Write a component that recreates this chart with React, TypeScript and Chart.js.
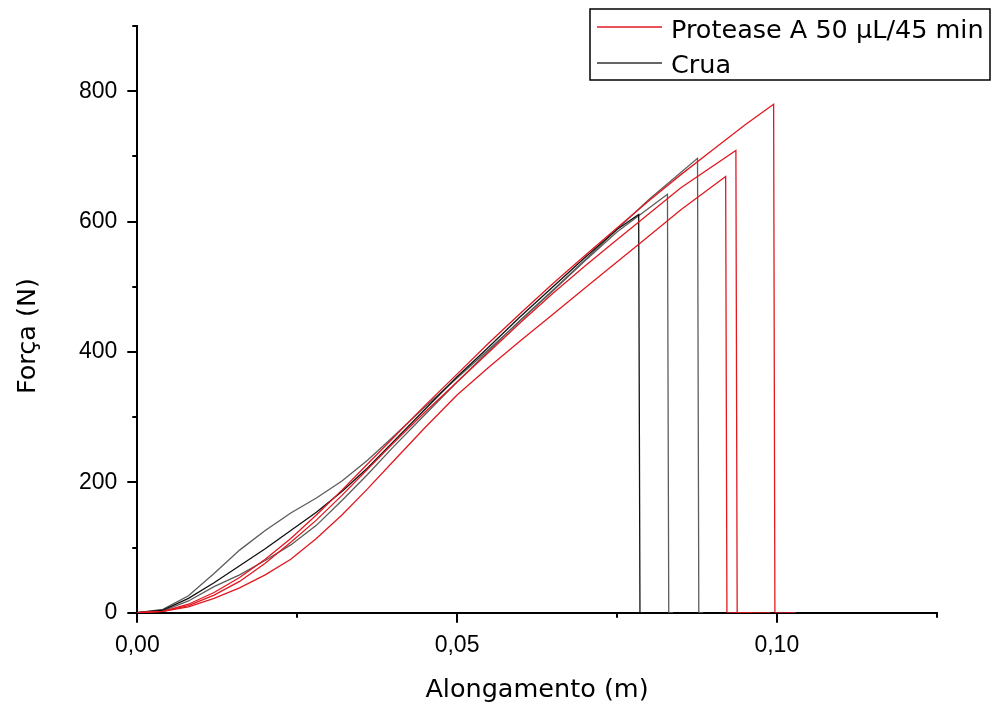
import React, { useEffect, useRef } from "react";
import { Chart, registerables } from "chart.js";

Chart.register(...registerables);

// ---- Data (Alongamento in m, Força in N) ----
const protease1X = [0, 0.004, 0.008, 0.012, 0.016, 0.02, 0.024, 0.028, 0.032, 0.036, 0.04, 0.045, 0.05, 0.055, 0.06, 0.065, 0.07, 0.075, 0.08, 0.085, 0.09, 0.095, 0.0995, 0.0997, 0.103];
const protease1Y = [0, 2, 13, 31, 54, 82, 114, 150, 188, 228, 268, 318, 366, 414, 460, 505, 548, 590, 632, 672, 710, 748, 780, 0, 0];

const protease2X = [0, 0.004, 0.008, 0.012, 0.016, 0.02, 0.024, 0.028, 0.032, 0.036, 0.04, 0.045, 0.05, 0.055, 0.06, 0.065, 0.07, 0.075, 0.08, 0.085, 0.0936, 0.0938, 0.099];
const protease2Y = [0, 2, 11, 27, 48, 76, 108, 142, 180, 220, 260, 308, 354, 400, 446, 490, 532, 572, 612, 652, 709, 0, 0];

const protease3X = [0, 0.004, 0.008, 0.012, 0.016, 0.02, 0.024, 0.028, 0.032, 0.036, 0.04, 0.045, 0.05, 0.055, 0.06, 0.065, 0.07, 0.075, 0.08, 0.085, 0.092, 0.0922, 0.096];
const protease3Y = [0, 2, 9, 22, 38, 58, 82, 114, 150, 190, 232, 284, 334, 377, 418, 458, 498, 538, 578, 618, 669, 0, 0];

const crua1X = [0, 0.004, 0.008, 0.012, 0.016, 0.02, 0.024, 0.028, 0.032, 0.036, 0.04, 0.045, 0.05, 0.055, 0.06, 0.065, 0.07, 0.075, 0.0784, 0.0786, 0.0792];
const crua1Y = [0, 4, 22, 46, 72, 98, 126, 154, 186, 222, 262, 312, 362, 408, 455, 500, 545, 588, 611, 0, 0];

const crua2X = [0, 0.004, 0.008, 0.012, 0.016, 0.02, 0.024, 0.028, 0.032, 0.036, 0.04, 0.045, 0.05, 0.055, 0.06, 0.065, 0.07, 0.075, 0.0829, 0.0831, 0.0838];
const crua2Y = [0, 5, 26, 60, 96, 126, 153, 176, 202, 234, 270, 316, 360, 404, 449, 494, 540, 584, 642, 0, 0];

const crua3X = [0, 0.004, 0.008, 0.012, 0.016, 0.02, 0.024, 0.028, 0.032, 0.036, 0.04, 0.045, 0.05, 0.055, 0.06, 0.065, 0.07, 0.075, 0.08, 0.0876, 0.0878, 0.0885];
const crua3Y = [0, 3, 18, 40, 58, 80, 104, 134, 172, 212, 254, 304, 354, 402, 450, 495, 541, 588, 634, 697, 0, 0];

const xMajorTicks = [0, 0.05, 0.1];
const xMinorTicks = [0.025, 0.075, 0.125];
const yMajorTicks = [0, 200, 400, 600, 800];
const yMinorTicks = [100, 300, 500, 700, 900];

const legendLabels = ["Protease A 50 \u03bcL/45 min", "Crua"];
const xTitle = "Alongamento (m)";
const yTitle = "Força (N)";

const RED = "rgb(226,24,32)";
const BLACK = "#111111";
const GRAY = "#5c5c5c";

const toPoints = (xs: number[], ys: number[]) => xs.map((x, i) => ({ x, y: ys[i] }));

const TICK_FONT = '"Liberation Sans", Arial, sans-serif';
const TITLE_FONT = '"DejaVu Sans", sans-serif';

const extrasPlugin = {
  id: "extras",
  afterDraw(chart: any) {
    const { ctx, scales } = chart;
    const xs = scales.x;
    const ys = scales.y;
    ctx.save();
    ctx.strokeStyle = "#000";
    ctx.lineWidth = 2;
    // minor ticks
    const yBase = ys.getPixelForValue(0);
    const xBase = xs.getPixelForValue(0);
    ctx.beginPath();
    xMinorTicks.forEach((v) => {
      const px = Math.round(xs.getPixelForValue(v));
      ctx.moveTo(px, yBase);
      ctx.lineTo(px, yBase + 5);
    });
    yMinorTicks.forEach((v) => {
      const py = Math.round(ys.getPixelForValue(v));
      ctx.moveTo(xBase, py);
      ctx.lineTo(xBase - 5, py);
    });
    ctx.stroke();

    // y axis title
    ctx.save();
    ctx.translate(28, 336);
    ctx.rotate(-Math.PI / 2);
    ctx.font = `25.5px ${TITLE_FONT}`;
    ctx.fillStyle = "#000";
    ctx.textAlign = "center";
    ctx.textBaseline = "middle";
    ctx.fillText(yTitle, 0, 0);
    ctx.restore();

    // legend
    const bx = 590, by = 9, bw = 400, bh = 71;
    ctx.fillStyle = "#fff";
    ctx.fillRect(bx, by, bw, bh);
    ctx.lineWidth = 1.5;
    ctx.strokeStyle = "#000";
    ctx.strokeRect(bx, by, bw, bh);
    const rows = [
      { label: legendLabels[0], color: RED, y: 27, base: 38 },
      { label: legendLabels[1], color: "#333333", y: 63, base: 73 },
    ];
    ctx.font = `25.5px ${TITLE_FONT}`;
    ctx.textBaseline = "alphabetic";
    ctx.textAlign = "left";
    rows.forEach((r) => {
      ctx.beginPath();
      ctx.strokeStyle = r.color;
      ctx.lineWidth = 1.5;
      ctx.moveTo(597, r.y);
      ctx.lineTo(662, r.y);
      ctx.stroke();
      ctx.fillStyle = "#000";
      ctx.fillText(r.label, 671, r.base);
    });
    ctx.restore();
  },
};

export default function App() {
  const ref = useRef<HTMLCanvasElement | null>(null);

  useEffect(() => {
    if (!ref.current) return;
    const mk = (xs: number[], ys: number[], color: string) => ({
      data: toPoints(xs, ys),
      borderColor: color,
      backgroundColor: color,
      borderWidth: 1.3,
      pointRadius: 0,
      showLine: true,
      fill: false,
      tension: 0,
    });
    const chart = new Chart(ref.current, {
      type: "scatter",
      data: {
        datasets: [
          mk(protease1X, protease1Y, RED),
          mk(protease2X, protease2Y, RED),
          mk(protease3X, protease3Y, RED),
          mk(crua1X, crua1Y, BLACK),
          mk(crua2X, crua2Y, GRAY),
          mk(crua3X, crua3Y, GRAY),
        ],
      },
      options: {
        animation: false,
        responsive: false,
        devicePixelRatio: 1,
        layout: { padding: { left: 0, top: 26, right: 61.3, bottom: 0 } },
        plugins: { legend: { display: false }, tooltip: { enabled: false } },
        scales: {
          x: {
            type: "linear",
            min: 0,
            max: 0.125,
            afterFit: (s: any) => {
              s.height = 97.3;
            },
            afterBuildTicks: (s: any) => {
              s.ticks = xMajorTicks.map((v) => ({ value: v }));
            },
            ticks: {
              color: "#000",
              padding: 9,
              font: { family: TICK_FONT, size: 23 },
              callback: (v: any) => Number(v).toFixed(2).replace(".", ","),
            },
            grid: {
              drawOnChartArea: false,
              drawTicks: true,
              tickLength: 10,
              color: "#000",
              lineWidth: 2,
            },
            border: { display: true, color: "#000", width: 2 },
            title: {
              display: true,
              text: xTitle,
              color: "#000",
              font: { family: TITLE_FONT, size: 25.5 },
              padding: { top: 0, bottom: 4 },
            },
          },
          y: {
            type: "linear",
            min: 0,
            max: 900,
            afterFit: (s: any) => {
              s.width = 137.3;
            },
            afterBuildTicks: (s: any) => {
              s.ticks = yMajorTicks.map((v) => ({ value: v }));
            },
            ticks: {
              color: "#000",
              padding: 10,
              font: { family: TICK_FONT, size: 23 },
              callback: (v: any) => String(v),
            },
            grid: {
              drawOnChartArea: false,
              drawTicks: true,
              tickLength: 10,
              color: "#000",
              lineWidth: 2,
            },
            border: { display: true, color: "#000", width: 2 },
            title: { display: false },
          },
        },
      },
      plugins: [extrasPlugin],
    } as any);
    return () => chart.destroy();
  }, []);

  return (
    <div style={{ position: "fixed", left: 0, top: 0, width: 998, height: 710, background: "#fff" }}>
      <canvas ref={ref} width={998} height={710} style={{ width: 998, height: 710, display: "block" }} />
    </div>
  );
}
